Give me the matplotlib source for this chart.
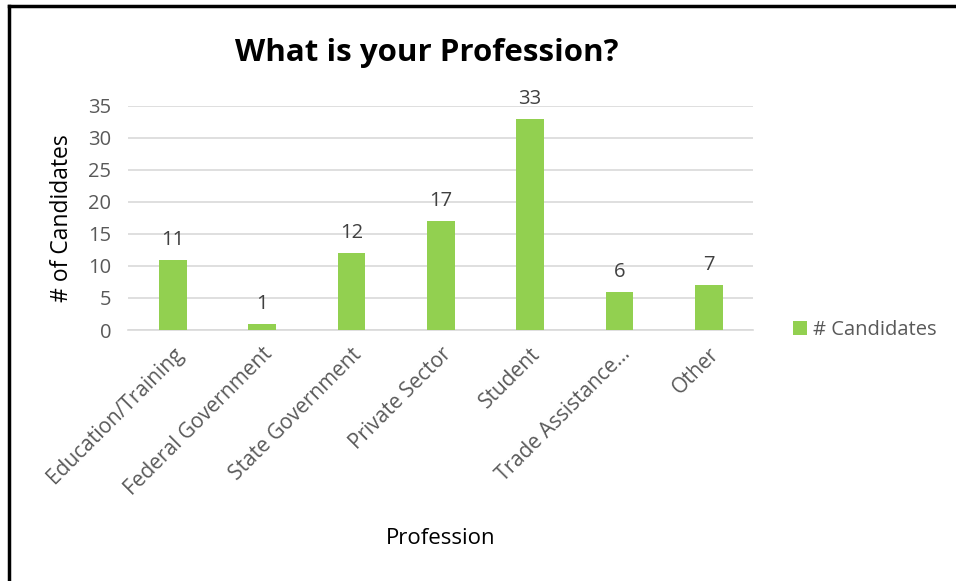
import matplotlib.pyplot as plt
from matplotlib.lines import Line2D

categories = ['Education/Training', 'Federal Government', 'State Government',
              'Private Sector', 'Student', 'Trade Assistance...', 'Other']
candidates = [11, 1, 12, 17, 33, 6, 7]
yticks = [0, 5, 10, 15, 20, 25, 30, 35]

plt.rcParams['font.family'] = ['Open Sans', 'DejaVu Sans']

fig = plt.figure(figsize=(9.56, 5.81), dpi=100)
ax = fig.add_axes([0.134, 0.432, 0.654, 0.386])

green = '#92d050'
x = range(len(categories))
bars = ax.bar(x, candidates, width=0.31, color=green, label='# Candidates', zorder=3)

# value labels over bars
for xi, v in zip(x, candidates):
  ax.annotate(str(v), (xi, v), xytext=(0, 7), textcoords='offset points',
              ha='center', va='bottom', fontsize=14.5, color='#404040')

ax.set_xlim(-0.5, len(categories) - 0.5)
ax.set_ylim(0, 35)
ax.set_yticks(yticks)
ax.yaxis.grid(True, color='#d9d9d9', linewidth=1.2, zorder=0)
for s in ['top', 'right', 'left']:
  ax.spines[s].set_visible(False)
ax.spines['bottom'].set_color('#d9d9d9')
ax.spines['bottom'].set_linewidth(1.2)
ax.tick_params(axis='both', length=0, labelsize=14.5, labelcolor='#595959')
ax.tick_params(axis='y', pad=12)
ax.set_xticks(list(x))
ax.set_xticklabels(categories, rotation=45, ha='right', rotation_mode='anchor',
                   fontsize=15)
ax.tick_params(axis='x', pad=10)

ax.set_ylabel('# of Candidates', fontsize=16.5, color='black', labelpad=10)
ax.set_xlabel('Profession', fontsize=16, color='black', labelpad=20)
ax.set_title('What is your Profession?', fontsize=22.5, fontweight='bold',
             color='black', pad=32, x=0.477)

ax.legend(loc='center left', bbox_to_anchor=(1.035, 0.0), frameon=False,
          fontsize=14.5, labelcolor='#595959', handlelength=0.7, handleheight=0.7,
          handletextpad=0.3)

# frame around the chart (left and top only visible)
fig.add_artist(Line2D([0.0089, 0.0089], [0, 0.99], color='black', linewidth=2.5))
fig.add_artist(Line2D([0.0089, 1.0], [0.99, 0.99], color='black', linewidth=2.5))

fig.savefig('out.png', dpi=100)
